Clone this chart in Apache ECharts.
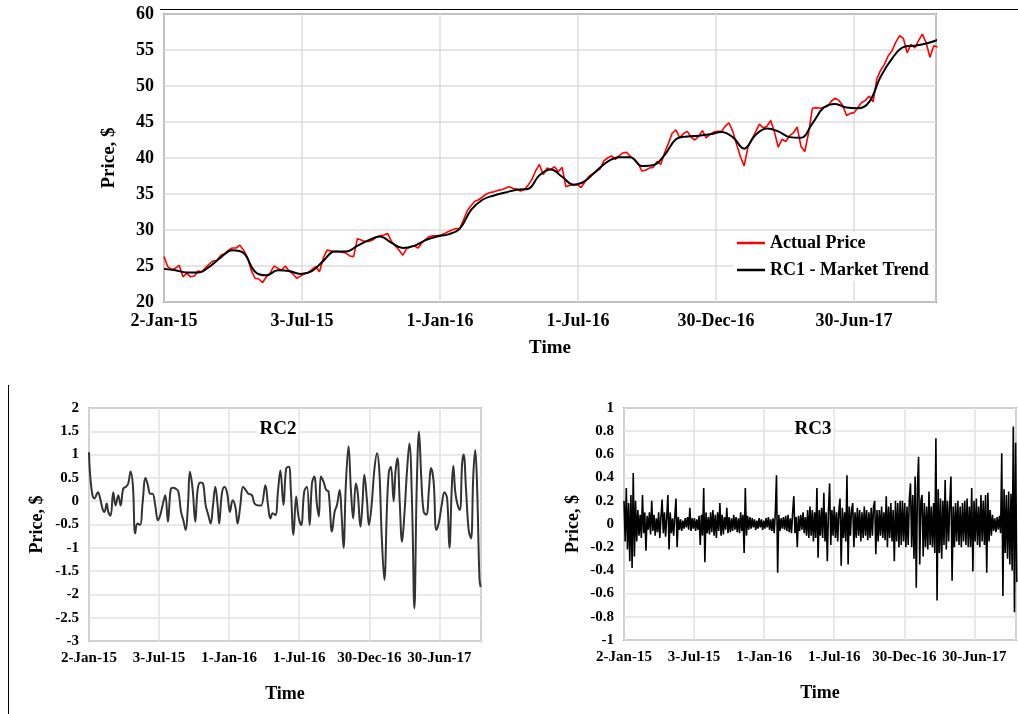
<!DOCTYPE html>
<html>
<head>
<meta charset="utf-8">
<script src="https://cdn.jsdelivr.net/npm/echarts@6/dist/echarts.min.js"></script>
<style>
html,body{margin:0;padding:0;background:#fff;}
#chart{width:1018px;height:714px;}
</style>
</head>
<body>
<div id="chart"></div>
<script>
// ---- tick labels (x axis: calendar days from 2-Jan-15, ticks every 182 days) ----
const dateLabels = ['2-Jan-15','3-Jul-15','1-Jan-16','1-Jul-16','30-Dec-16','30-Jun-17'];
const DAY_TICK = 182;
const DAY_MAX = 1018;

// ---- Actual price, sampled every 5 days ----
const PRICE_STEP = 5;
const actualPrice = [
26.3,24.9,24.5,24.7,25.1,23.5,24.0,23.5,23.6,24.3,24.2,24.8,25.3,25.7,25.8,26.5,26.7,27.2,27.5,27.5,
27.9,27.2,26.2,24.4,23.3,23.2,22.7,23.5,24.0,25.0,24.7,24.4,25.0,24.3,23.9,23.3,23.6,23.9,24.1,24.5,
24.9,24.2,26.1,27.2,27.1,27.0,27.0,26.9,26.8,26.4,26.3,28.8,28.6,28.4,28.4,28.6,29.0,29.2,29.3,29.5,
28.4,27.8,27.2,26.5,27.4,27.7,27.8,27.5,28.2,28.7,29.1,29.2,29.2,29.3,29.5,29.8,30.0,30.2,30.2,31.4,
32.7,33.4,34.0,34.2,34.6,35.0,35.2,35.3,35.5,35.6,35.8,36.0,35.8,35.7,35.4,35.6,36.2,37.0,38.2,39.1,
37.7,38.6,38.4,38.8,38.1,38.7,36.0,36.2,36.3,36.3,35.9,36.7,37.4,37.8,38.1,38.5,39.6,40.0,40.3,39.8,
40.3,40.7,40.8,40.2,39.8,39.3,38.2,38.3,38.6,38.7,39.5,39.1,40.7,42.0,43.4,43.9,42.8,43.4,43.7,42.9,
42.5,43.0,43.8,42.8,43.3,43.6,43.7,43.7,44.4,44.9,43.7,41.9,40.2,38.9,41.5,42.6,43.6,44.7,44.2,44.4,
45.2,43.6,41.5,42.6,42.3,43.1,43.5,44.3,41.6,40.9,43.5,46.9,47.0,46.9,47.0,47.2,47.9,48.3,48.0,47.3,
45.9,46.2,46.3,47.0,47.7,48.0,48.6,47.8,51.0,52.2,53.0,54.2,54.9,56.1,57.0,56.6,54.6,55.8,55.3,56.3,
57.2,56.0,54.0,55.6,55.4
];

// ---- RC1 market trend, sampled every 15 days ----
const TREND_STEP = 15;
const rc1Trend = [
24.6,24.4,24.1,24.1,24.9,26.2,27.2,26.8,24.2,23.7,24.4,24.3,23.9,24.3,25.7,27.0,27.0,27.8,28.6,29.1,
28.2,27.5,27.8,28.6,29.1,29.4,30.2,32.8,34.2,34.8,35.2,35.6,35.7,37.6,38.4,37.4,36.3,36.8,38.2,39.5,
40.1,40.1,38.9,39.0,40.4,42.6,43.0,43.1,43.3,43.6,42.9,41.3,43.2,44.1,43.7,42.9,42.8,44.8,47.0,47.5,
47.0,46.9,47.8,51.3,53.8,55.4,55.6,55.9,56.4
];

// ---- RC2 (days and values read at turning points) ----
const rc2Days = [
0,3,9,14,23,29,35,40,46,50,56,63,69,76,82,89,96,102,108,114,
120,126,133,139,147,153,159,165,172,179,185,191,198,205,212,218,225,232,239,245,
251,257,262,269,276,282,289,296,303,310,316,322,328,334,338,345,352,359,366,373,
380,386,393,400,407,414,423,430,439,447,458,465,471,477,484,491,497,505,512,519,
524,531,538,544,551,559,566,573,579,585,592,597,602,609,616,622,631,638,644,651,
656,661,667,674,680,686,693,698,705,710,715,722,727,734,741,748,754,760,767,774,
779,784,791,796,801,807,813,819,826,832,839,845,851,857,863,869,876,883,888,895,
902,909,916,923,930,936,942,946,951,956,963,969,973,979,986,992,998,1003,1008,1014,
1017
];
const rc2Values = [
1.05,0.56,0.13,0.06,0.19,0.06,-0.16,-0.23,-0.05,-0.23,-0.31,0.19,-0.09,0.13,-0.09,0.27,0.31,0.38,0.64,0.34,
-0.69,-0.48,-0.51,-0.05,0.5,0.34,0.16,0.16,-0.09,-0.41,-0.3,-0.09,0.13,-0.44,0.24,0.29,0.27,0.21,-0.23,-0.41,
-0.62,-0.09,0.63,0.27,-0.44,0.24,0.4,0.38,-0.09,-0.3,-0.48,-0.09,0.31,-0.09,-0.48,0.16,0.31,0.16,-0.23,0.02,
-0.12,-0.48,-0.09,0.31,0.24,0.16,0.13,-0.05,-0.09,-0.09,0.34,-0.09,-0.37,-0.26,-0.3,0.24,0.66,-0.08,0.7,0.74,
0.27,-0.72,0.1,-0.33,-0.51,0.21,0.31,-0.51,0.38,0.53,-0.08,-0.33,0.53,0.42,0.24,0.21,-0.65,-0.22,-0.08,0.24,
-0.29,-1.0,0.35,1.18,0.27,-0.37,0.38,0.17,-0.55,-0.08,0.57,0,-0.51,-0.08,0.67,1.03,0.64,-0.72,-1.69,-0.08,
0.64,0.74,0,0.64,0.92,-0.04,-0.87,-0.29,0.67,1.24,-0.08,-2.3,0.27,1.49,0.49,-0.22,-0.29,0.27,0.71,0.42,
-0.62,-0.44,-0.08,0.19,0.06,-1.0,0.27,0.76,0.21,-0.04,-0.19,0.81,1.0,0.27,-0.62,-0.8,0.56,1.1,0.27,-1.66,
-1.84
];

// ---- RC3 noise component, sampled every 3 days ----
const RC3_STEP = 3;
const rc3Values = [
0.2,-0.15,0.31,-0.22,0.18,-0.32,0.25,-0.38,0.44,-0.28,0.2,-0.15,0.12,-0.1,0.08,-0.12,0.25,-0.08,0.1,-0.23,
0.07,-0.05,0.1,-0.09,0.2,-0.06,0.08,-0.1,0.05,-0.07,0.1,-0.12,0.06,0.21,-0.08,0.1,-0.11,0.06,0.25,-0.22,
0.1,-0.08,0.05,-0.1,0.07,0.22,-0.2,0.06,-0.05,0.04,-0.06,0.03,-0.04,0.05,-0.03,0.06,-0.05,0.14,-0.06,0.05,
-0.04,0.05,-0.06,0.04,-0.05,0.07,-0.18,0.08,-0.1,0.31,-0.33,0.1,-0.08,0.06,-0.09,0.1,-0.07,0.12,-0.1,0.08,
-0.12,0.1,-0.06,0.18,-0.1,0.08,-0.09,0.06,-0.05,0.14,-0.08,0.06,-0.07,0.05,-0.06,0.08,-0.05,0.06,-0.07,0.05,
-0.08,0.1,-0.06,0.08,-0.25,0.31,-0.1,0.07,-0.05,0.06,-0.04,0.05,-0.03,0.04,-0.05,0.03,-0.04,0.05,-0.03,0.04,
-0.05,0.03,-0.04,0.05,-0.03,0.06,-0.05,0.04,-0.06,0.05,-0.08,0.1,0.42,-0.42,0.08,-0.06,0.05,-0.04,0.06,-0.05,
0.07,-0.06,0.08,-0.07,0.05,-0.08,0.1,0.24,-0.08,0.06,-0.2,0.07,-0.06,0.08,-0.05,0.1,-0.08,0.06,-0.1,0.12,
-0.12,0.15,-0.1,0.12,-0.15,0.1,-0.12,0.31,-0.29,0.12,-0.1,0.14,-0.12,0.27,-0.15,0.1,-0.32,0.12,0.35,-0.18,
0.12,-0.1,0.15,-0.12,0.1,-0.15,0.12,0.22,-0.36,0.14,-0.12,0.1,-0.15,0.42,-0.35,0.15,-0.1,0.12,0.18,-0.2,
0.1,-0.12,0.14,-0.1,0.12,-0.15,0.1,-0.12,0.15,-0.1,0.12,-0.14,0.1,-0.12,0.14,-0.1,0.15,0.2,-0.26,0.12,
-0.15,0.12,-0.1,0.15,-0.12,0.1,-0.14,0.24,-0.2,0.15,-0.12,0.18,-0.15,0.12,-0.32,0.2,-0.15,0.18,-0.2,0.2,
-0.18,0.2,-0.15,0.18,-0.2,0.15,-0.18,0.22,0.35,-0.2,0.25,-0.3,0.41,-0.55,0.3,0.58,-0.35,0.2,0.25,-0.28,
0.18,-0.2,0.15,-0.22,0.28,-0.18,0.15,-0.2,0.18,-0.25,0.74,-0.66,0.3,-0.25,0.22,-0.3,0.2,-0.18,0.38,-0.22,
0.2,-0.15,0.18,0.41,-0.49,0.15,-0.2,0.18,-0.15,0.2,-0.18,0.15,-0.2,0.18,-0.15,0.2,-0.18,0.22,-0.2,0.15,
-0.2,0.31,-0.41,0.2,-0.15,0.22,-0.18,0.15,-0.2,0.25,-0.15,0.2,-0.18,0.25,-0.42,0.27,-0.15,0.12,-0.1,0.08,
-0.06,0.05,-0.07,0.06,-0.05,0.07,-0.08,0.61,-0.62,0.3,-0.25,0.25,-0.3,0.28,-0.35,0.26,-0.4,0.84,-0.76,0.7,
-0.5
];

// ---- build [day, value] pairs ----
const priceData = actualPrice.map((v, i) => [i * PRICE_STEP, v]);
const trendData = rc1Trend.map((v, i) => [i * TREND_STEP, v]);
const rc2Data = rc2Days.map((d, i) => [d, rc2Values[i]]);
const rc3Data = rc3Values.map((v, i) => [i * RC3_STEP, v]);

const FONT = 'Liberation Serif';
function dateFmt(v) {
  const i = Math.round(v / DAY_TICK);
  return (Math.abs(v - i * DAY_TICK) < 1e-6 && i < dateLabels.length) ? dateLabels[i] : '';
}
function xAxisCfg(gridIndex, fontSize, nameSize, nameGap, gridColor) {
  return {
    gridIndex, type: 'value', min: 0, max: DAY_MAX, interval: DAY_TICK,
    name: 'Time', nameLocation: 'middle', nameGap,
    nameTextStyle: {fontFamily: FONT, fontWeight: 'bold', fontSize: nameSize, color: '#000'},
    axisLine: {show: false}, axisTick: {show: false},
    axisLabel: {formatter: dateFmt, fontFamily: FONT, fontWeight: 'bold', fontSize, color: '#000', margin: 10, showMaxLabel: false},
    splitLine: {show: true, lineStyle: {color: gridColor, width: 1.5}}
  };
}
function yAxisCfg(gridIndex, min, max, interval, fontSize, nameSize, nameGap, gridColor) {
  return {
    gridIndex, type: 'value', min, max, interval,
    name: 'Price, $', nameLocation: 'middle', nameGap,
    nameTextStyle: {fontFamily: FONT, fontWeight: 'bold', fontSize: nameSize, color: '#000'},
    axisLine: {show: false}, axisTick: {show: false},
    axisLabel: {fontFamily: FONT, fontWeight: 'bold', fontSize, color: '#000', margin: 10},
    splitLine: {show: true, lineStyle: {color: gridColor, width: 1.5}}
  };
}

const chart = echarts.init(document.getElementById('chart'));
chart.setOption({
  backgroundColor: '#fff',
  animation: false,
  grid: [
    {left: 164, top: 14, width: 772, height: 288, show: true, borderColor: '#404040', borderWidth: 1.5, backgroundColor: 'transparent'},
    {left: 89, top: 408, width: 392, height: 233, show: true, borderColor: '#7f7f7f', borderWidth: 1.5, backgroundColor: 'transparent'},
    {left: 624, top: 408, width: 392, height: 232, show: true, borderColor: '#7f7f7f', borderWidth: 1.5, backgroundColor: 'transparent'}
  ],
  xAxis: [
    xAxisCfg(0, 18, 19, 37, '#dcdcdc'),
    xAxisCfg(1, 15, 18, 44, '#e2e2e2'),
    xAxisCfg(2, 15, 18, 44, '#e2e2e2')
  ],
  yAxis: [
    yAxisCfg(0, 20, 60, 5, 18, 19, 45, '#dcdcdc'),
    yAxisCfg(1, -3, 2, 0.5, 15, 18, 43, '#e2e2e2'),
    yAxisCfg(2, -1, 1, 0.2, 15, 18, 42, '#e2e2e2')
  ],
  legend: {
    orient: 'vertical', left: 733, top: 232, icon: 'rect', itemWidth: 28, itemHeight: 2.5, itemGap: 9,
    backgroundColor: '#fff', padding: [2, 4, 2, 4],
    textStyle: {fontFamily: FONT, fontWeight: 'bold', fontSize: 18, color: '#000'},
    data: ['Actual Price', 'RC1 - Market Trend']
  },
  graphic: [
    {type: 'line', z: 100, shape: {x1: 160, y1: 9.5, x2: 1018, y2: 9.5}, style: {stroke: '#000', lineWidth: 1}},
    {type: 'line', z: 100, shape: {x1: 8.5, y1: 385, x2: 8.5, y2: 714}, style: {stroke: '#000', lineWidth: 1}},
    {type: 'text', z: 100, x: 278, y: 429, style: {text: 'RC2', fontFamily: FONT, fontWeight: 'bold', fontSize: 19, fill: '#000', align: 'center', verticalAlign: 'middle', backgroundColor: '#fff', padding: [0, 2]}},
    {type: 'text', z: 100, x: 813, y: 429, style: {text: 'RC3', fontFamily: FONT, fontWeight: 'bold', fontSize: 19, fill: '#000', align: 'center', verticalAlign: 'middle', backgroundColor: '#fff', padding: [0, 2]}}
  ],
  series: [
    {name: 'Actual Price', type: 'line', xAxisIndex: 0, yAxisIndex: 0, data: priceData, showSymbol: false, symbol: 'none',
     lineStyle: {color: '#ff0000', width: 1.6}, itemStyle: {color: '#ff0000'}},
    {name: 'RC1 - Market Trend', type: 'line', xAxisIndex: 0, yAxisIndex: 0, data: trendData, showSymbol: false, symbol: 'none', smooth: 0.4,
     lineStyle: {color: '#000', width: 2}, itemStyle: {color: '#000'}},
    {name: 'RC2', type: 'line', xAxisIndex: 1, yAxisIndex: 1, data: rc2Data, showSymbol: false, symbol: 'none', smooth: 0.4,
     lineStyle: {color: '#333', width: 2}},
    {name: 'RC3', type: 'line', xAxisIndex: 2, yAxisIndex: 2, data: rc3Data, showSymbol: false, symbol: 'none',
     lineStyle: {color: '#000', width: 1.6}}
  ]
});
</script>
</body>
</html>
